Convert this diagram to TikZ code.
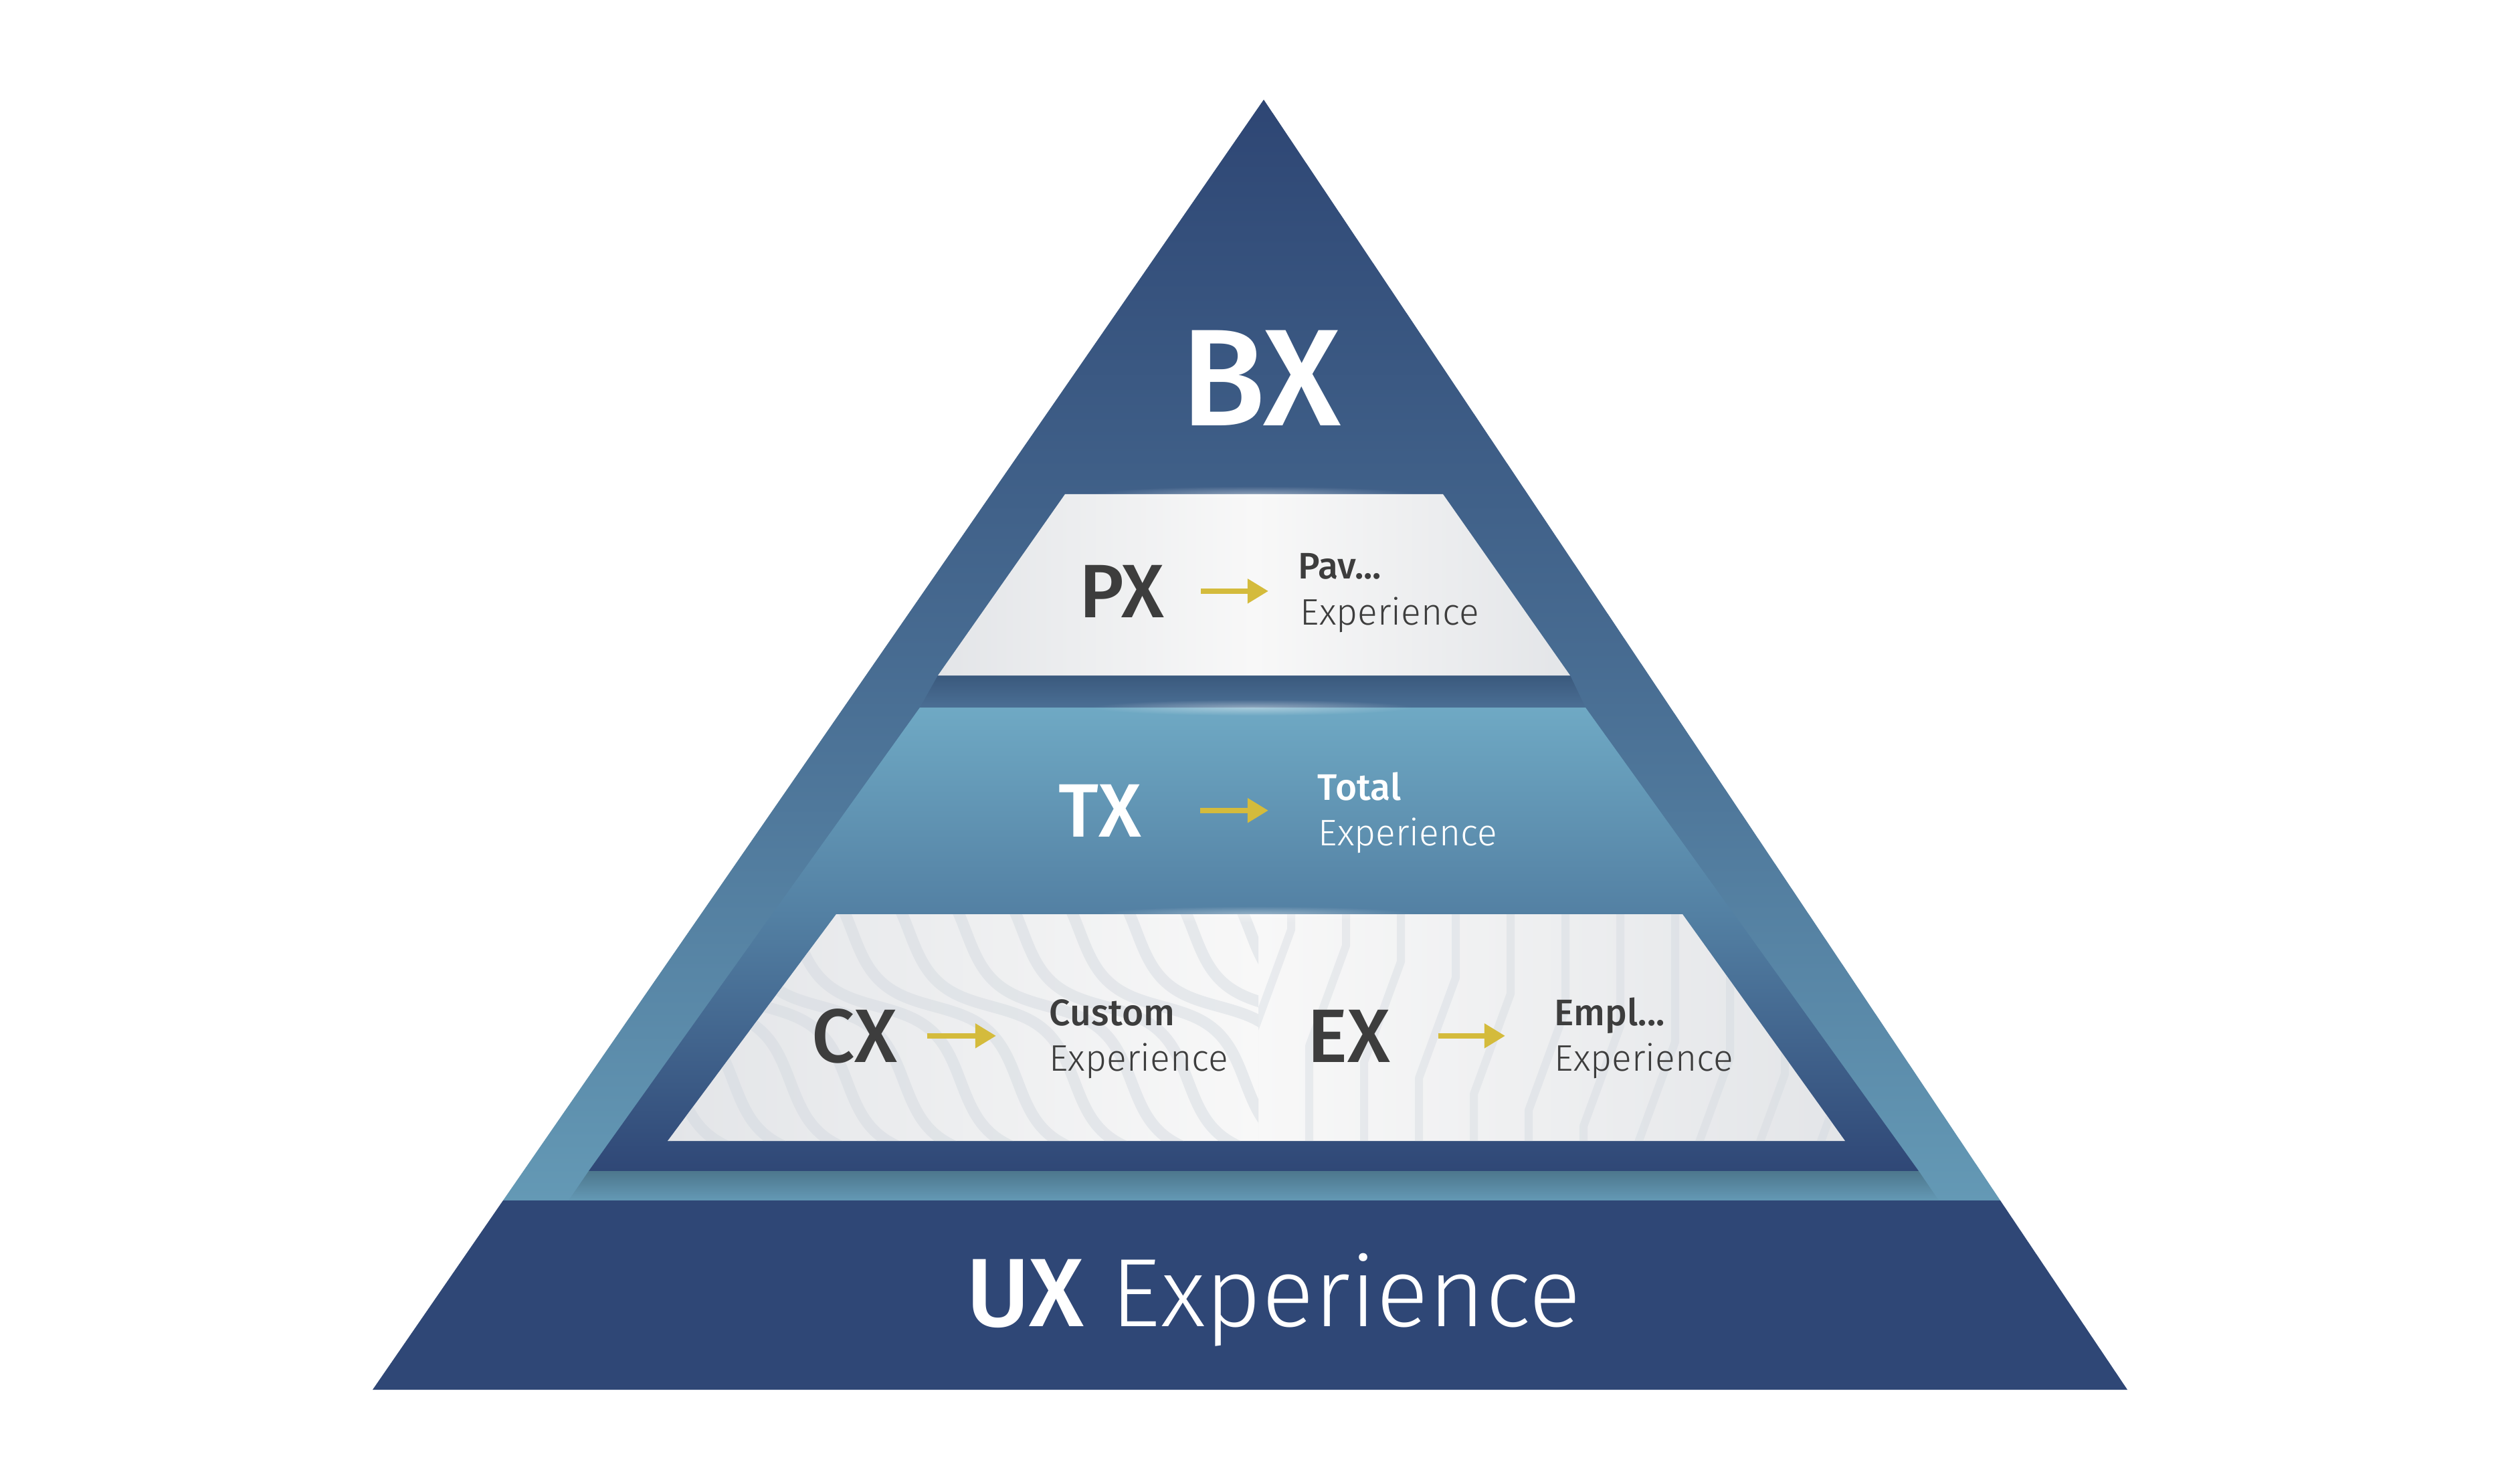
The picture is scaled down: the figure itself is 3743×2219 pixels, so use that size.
\documentclass[tikz,border=0pt]{standalone}
\usepackage{fontspec}
\setmainfont{Fira Sans}
\newfontfamily\medfont{Fira Sans Medium}
\newfontfamily\litefont{Fira Sans Light}
\usetikzlibrary{arrows.meta,positioning,fadings}
\definecolor{navy}{HTML}{2F4776}
\definecolor{blueA}{HTML}{2E4674}
\definecolor{blueM}{HTML}{476B91}
\definecolor{blueB}{HTML}{6499B5}
\definecolor{shadeA}{HTML}{3A597D}
\definecolor{frameB}{HTML}{4B6F95}
\definecolor{tealA}{HTML}{6FA9C4}
\definecolor{tealB}{HTML}{5380A3}
\definecolor{bandA}{HTML}{4D778D}
\definecolor{paneA}{HTML}{E3E5E8}
\definecolor{paneB}{HTML}{F8F8F8}
\definecolor{stripe}{HTML}{D2D8DF}
\definecolor{ink}{HTML}{3D3D3D}
\definecolor{gold}{HTML}{D4BB3C}
\tikzfading[name=glowfade, inner color=transparent!0, outer color=transparent!100]

\begin{document}
\begin{tikzpicture}[
  x=0.01cm,y=-0.01cm,
  big/.style={font=\medfont\fontsize{58.6}{60}\selectfont, text=white, inner sep=0pt, anchor=base},
  code/.style={font=\medfont\fontsize{32.2}{34}\selectfont, text=ink, inner sep=0pt, anchor=base},
  head/.style={font=\medfont\fontsize{15.7}{19}\selectfont, text=ink, inner sep=0pt, anchor=base west},
  sub/.style={font=\litefont\fontsize{15.7}{19}\selectfont, text=ink, inner sep=0pt, anchor=base west},
  ux/.style={font=\litefont\fontsize{41.3}{44}\selectfont, text=white, inner sep=0pt, anchor=base},
  arr/.style={draw=gold, line width=0.083cm, -{Triangle[length=0.31cm,width=0.35cm]}},
  wave/.style={draw=stripe, line width=0.17cm, opacity=.45},
  trace/.style={draw=stripe, line width=0.12cm, opacity=.4, line join=round},
  glow/.style={fill=white, path fading=glowfade, opacity=.4}
]
\fill[white] (0,0) rectangle (3743,2219);
\useasboundingbox (0,0) rectangle (3743,2219);

% pyramid body
\path[top color=blueA, bottom color=blueB, middle color=blueM] (1889,149) -- (2990,1795) -- (752,1795) -- cycle;
\path[top color=shadeA, bottom color=frameB] (1402,1010) -- (2347,1010) -- (2370,1058) -- (1375,1058) -- cycle;
\path[top color=tealA, bottom color=tealB] (1375,1058) -- (2370,1058) -- (2592,1367) -- (1154,1367) -- cycle;
\path[top color=tealB, bottom color=navy] (1154,1367) -- (2592,1367) -- (2868,1751) -- (880,1751) -- cycle;
\path[top color=bandA, bottom color=blueB] (880,1751) -- (2868,1751) -- (2898,1795) -- (850,1795) -- cycle;
\fill[navy] (752,1795) -- (2990,1795) -- (3180,2078) -- (557,2078) -- cycle;

% light panels
\path[left color=paneA, right color=paneA, middle color=paneB] (1592,739) -- (2157,739) -- (2347,1010) -- (1402,1010) -- cycle;
\path[left color=paneA, right color=paneA, middle color=paneB] (1250,1367) -- (2515,1367) -- (2758,1706) -- (998,1706) -- cycle;

\begin{scope}
\clip (1250,1367) -- (1881,1367) -- (1881,1706) -- (998,1706) -- cycle;
\foreach \s in {300,385,...,1900}
  \draw[wave] plot[domain=0:700, samples=120, smooth, variable=\t] ({\s+1.1*\t+18*sin(1.6*\t)}, {1280+\t-20*sin(1.6*\t)});
\end{scope}
\begin{scope}
\clip (1881,1367) -- (2515,1367) -- (2758,1706) -- (1881,1706) -- cycle;
\foreach \i in {0,...,10}
  \draw[trace] (1930+82*\i,1360) -- (1930+82*\i,1390+24*\i) -- ++(-55,150) -- ++(0,400);
\end{scope}

\fill[glow] (1875,739) ellipse [x radius=240, y radius=12];
\fill[glow] (1872,1058) ellipse [x radius=240, y radius=12];
\fill[glow] (1878,1367) ellipse [x radius=240, y radius=12];

% labels
\node[big] (bx) at (1885,637) {BX};

\node[code] (px) at (1677,923) {PX};
\node[head] (pavt) at (1940,866) {Pav...};
\node[sub] (pave) at (1943,934) {Experience};

\node[code, text=white] (tx) at (1644,1251) {TX};
\node[head, text=white] (tott) at (1969,1196) {Total};
\node[sub, text=white] (tote) at (1970,1264) {Experience};

\node[code] (cx) at (1277,1588) {CX};
\node[head] (cust) at (1568,1533) {Custom};
\node[sub] (cuse) at (1568,1601) {Experience};

\node[code] (ex) at (2016,1588) {EX};
\node[head] (empt) at (2323,1533) {Empl...};
\node[sub] (empe) at (2323,1601) {Experience};

\node[ux] (ux) at (1904,1983) {{\medfont UX} Experience};

\draw[arr] ([xshift=0.54cm]px.east) -- ([xshift=-0.44cm]px.east -| pavt.west);
\draw[arr] ([xshift=0.87cm]tx.east) -- ([xshift=-0.73cm]tx.east -| tott.west);
\draw[arr] ([xshift=0.45cm]cx.east) -- ([xshift=-0.79cm]cx.east -| cust.west);
\draw[arr] ([xshift=0.71cm]ex.east) -- ([xshift=-0.73cm]ex.east -| empt.west);
\end{tikzpicture}
\end{document}
